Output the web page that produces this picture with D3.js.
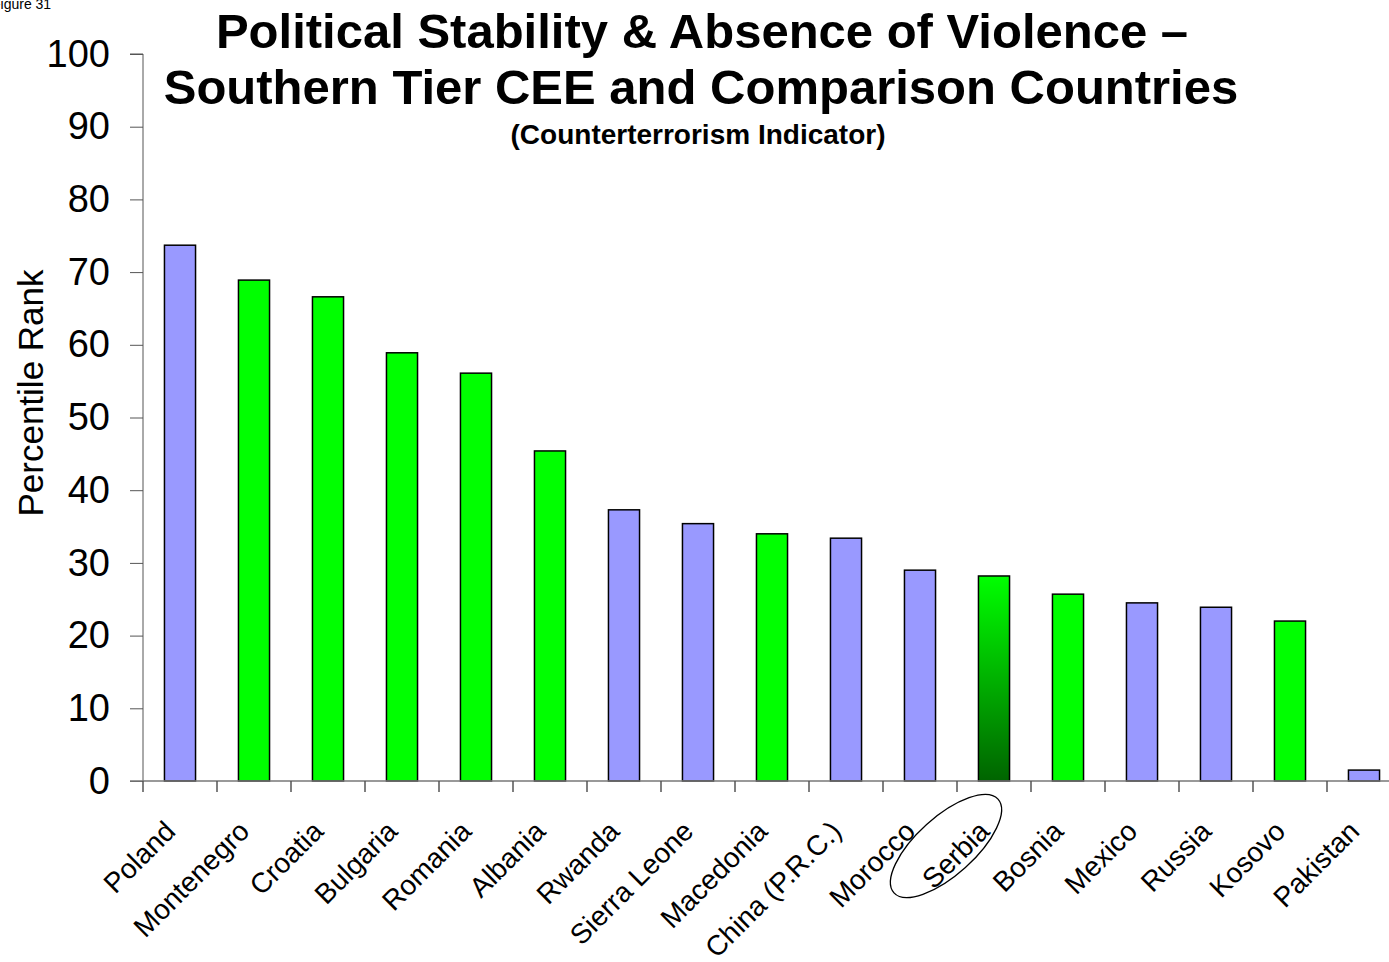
<!DOCTYPE html>
<html><head><meta charset="utf-8">
<script src="https://cdn.jsdelivr.net/npm/d3@7/dist/d3.min.js"></script>
<style>body{margin:0;background:#fff}svg{display:block;font-family:Arial,"Liberation Sans",sans-serif}</style>
</head><body><svg id="c" width="1389" height="962"></svg>
<script>
const categories = ["Poland","Montenegro","Croatia","Bulgaria","Romania","Albania","Rwanda","Sierra Leone","Macedonia","China (P.R.C.)","Morocco","Serbia","Bosnia","Mexico","Russia","Kosovo","Pakistan"];
const values = [73.7,68.9,66.6,58.9,56.1,45.4,37.3,35.4,34.0,33.4,29.0,28.2,25.7,24.5,23.9,22.0,1.5];
const groups = ["comp","cee","cee","cee","cee","cee","comp","comp","cee","comp","comp","serbia","cee","comp","comp","cee","comp"];
const yTicks = [0,10,20,30,40,50,60,70,80,90,100];

(function(){
const FF = "Arial, 'Liberation Sans', sans-serif";
const svg = d3.select("#c");
const pLeft = 143, pRight = 1401, pTop = 54, pBottom = 781;
const x = d3.scaleBand().domain(categories).range([pLeft, pRight]).paddingInner(0.58).paddingOuter(0.29);
const y = d3.scaleLinear().domain([0,100]).range([pBottom, pTop]);

const defs = svg.append("defs");
const g = defs.append("linearGradient").attr("id","serbiaGrad").attr("x1",0).attr("y1",0).attr("x2",0).attr("y2",1);
g.append("stop").attr("offset","0%").attr("stop-color","#00ff00");
g.append("stop").attr("offset","100%").attr("stop-color","#006400");

const fillFor = k => k==="comp" ? "#9999ff" : k==="cee" ? "#00ff00" : "url(#serbiaGrad)";

svg.append("text").attr("x",-8).attr("y",9).attr("font-size",14).attr("font-family",FF).text("Figure 31");

svg.append("g").selectAll("rect").data(categories).join("rect")
  .attr("x", d => x(d)).attr("width", x.bandwidth())
  .attr("y", (d,i) => y(values[i])).attr("height", (d,i) => pBottom - y(values[i]))
  .attr("fill", (d,i) => fillFor(groups[i])).attr("stroke","#000").attr("stroke-width",1.5);

const ya = svg.append("g").attr("transform",`translate(${pLeft},0)`)
  .call(d3.axisLeft(y).tickValues(yTicks).tickSize(13).tickPadding(20));
ya.select(".domain").attr("stroke","#555").attr("d",`M-13,${pTop}H0V${pBottom}`);
ya.selectAll(".tick line").attr("stroke","#555");
ya.selectAll("text").attr("font-size",38).attr("fill","#000").attr("font-family",FF);

svg.append("line").attr("x1",pLeft-13).attr("x2",pRight).attr("y1",pBottom).attr("y2",pBottom).attr("stroke","#777").attr("stroke-width",1.5);
svg.append("g").selectAll("line").data(d3.range(categories.length)).join("line")
  .attr("x1", i => pLeft + i*x.step()).attr("x2", i => pLeft + i*x.step())
  .attr("y1", pBottom).attr("y2", pBottom+11).attr("stroke","#555").attr("stroke-width",1.5);

svg.append("g").selectAll("text").data(categories).join("text")
  .attr("transform", d => `translate(${x(d)+x.bandwidth()/2-3},${pBottom+52}) rotate(-45)`)
  .attr("text-anchor","end").attr("font-size",28).attr("font-family",FF).text(d => d);

const sx = x("Serbia")+x.bandwidth()/2;
const ecx = sx - 48, ecy = pBottom + 65;
svg.append("ellipse").attr("cx", ecx).attr("cy", ecy).attr("rx",70).attr("ry",29)
  .attr("transform",`rotate(-42,${ecx},${ecy})`).attr("fill","none").attr("stroke","#000").attr("stroke-width",1.3);

svg.append("text").attr("x",702).attr("y",48).attr("text-anchor","middle").attr("font-size",49).attr("font-weight","bold").attr("font-family",FF).text("Political Stability & Absence of Violence –");
svg.append("text").attr("x",701).attr("y",104).attr("text-anchor","middle").attr("font-size",49).attr("font-weight","bold").attr("font-family",FF).text("Southern Tier CEE and Comparison Countries");
svg.append("text").attr("x",698).attr("y",144).attr("text-anchor","middle").attr("font-size",28).attr("font-weight","bold").attr("font-family",FF).text("(Counterterrorism Indicator)");

svg.append("text").attr("transform",`translate(43,393) rotate(-90)`).attr("text-anchor","middle").attr("font-size",35).attr("font-family",FF).text("Percentile Rank");
})();
</script></body></html>
